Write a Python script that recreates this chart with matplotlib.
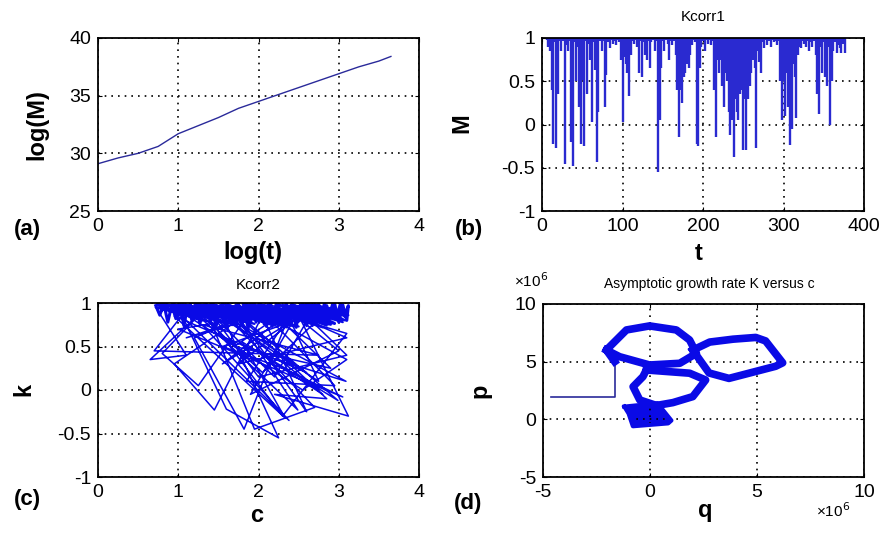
import matplotlib
matplotlib.use("Agg")
import matplotlib.pyplot as plt

plt.rcParams['font.family'] = ['Liberation Sans', 'DejaVu Sans']
plt.rcParams['axes.unicode_minus'] = False

# (a) log(M) vs log(t)
log_t = [0.0, 0.25, 0.5, 0.75, 1.0, 1.25, 1.5, 1.75, 2.0, 2.25, 2.5, 2.75, 3.0, 3.25, 3.5, 3.65]
log_m = [29.1, 29.6, 30.0, 30.6, 31.7, 32.4, 33.1, 33.9, 34.5, 35.1, 35.7, 36.3, 36.9, 37.5, 38.0, 38.4]

# (b) Kcorr1, M at t = 6, 8, ..., 376
t_b = list(range(6, 378, 2))
m_b = [0.98, 0.90, 0.85, 0.40, -0.22, 0.95, -0.27, 0.35, 0.97, 0.85,
       0.96, -0.46, 0.92, 0.85, 0.97, -0.20, -0.48, 0.95, 0.50, 0.90,
       0.20, -0.22, 0.52, -0.25, 0.96, 0.35, 0.93, 0.75, 0.03, 0.95,
       0.63, -0.43, 0.15, 0.97, 0.85, 0.96, 0.20, 0.57, 0.95, 0.88,
       0.98, 0.93, 0.97, 0.92, 0.98, 0.95, 0.75, 0.03, 0.78, 0.70,
       0.60, 0.33, 0.80, 0.97, 0.93, 0.98, 0.90, 0.60, 0.97, 0.55,
       0.95, 0.80, 0.75, 0.97, 0.65, 0.95, 0.98, 0.85, 0.97, -0.55,
       0.05, 0.65, 0.97, 0.85, 0.98, 0.93, 0.75, 0.97, 0.92, 0.97,
       0.80, 0.40, -0.15, 0.40, 0.25, 0.55, 0.60, 0.70, 0.65, 0.80,
       0.92, 0.98, 0.95, -0.22, -0.25, 0.65, 0.90, 0.97, 0.85, 0.98,
       0.93, 0.98, 0.92, 0.97, 0.40, -0.15, 0.75, 0.60, 0.75, 0.45,
       0.20, 0.60, 0.50, 0.15, -0.12, 0.05, -0.38, 0.30, 0.15, 0.05,
       0.35, 0.40, -0.30, 0.30, -0.30, 0.30, 0.45, 0.60, 0.75, 0.65,
       -0.27, 0.85, 0.72, 0.60, 0.95, 0.88, 0.98, 0.92, 0.97, 0.90,
       0.98, 0.95, 0.97, 0.92, 0.97, 0.50, 0.05, 0.50, 0.10, 0.60,
       0.20, -0.24, -0.05, 0.70, 0.55, 0.08, 0.80, 0.90, 0.88, 0.97,
       0.93, 0.90, 0.97, 0.85, 0.95, 0.90, 0.97, 0.80, 0.35, 0.12,
       0.90, 0.60, 0.95, 0.55, 0.45, 0.90, 0.00, 0.50, 0.85, 0.95,
       0.83, 0.92, 0.88, 0.83, 0.93, 0.83]

# (c) Kcorr2, k vs c: long jumps ...
c_c = [0.72, 1.10, 0.65, 1.35, 0.80, 1.25, 1.90, 0.95, 1.45, 2.10,
       1.20, 1.82, 2.40, 1.05, 1.60, 2.25, 1.50, 2.70, 1.95, 1.40,
       2.30, 3.10, 2.00, 2.60, 1.70, 2.85, 2.20, 3.12, 2.45, 1.85,
       2.95, 2.10, 3.10, 2.55, 0.90, 2.38, 1.30, 2.75, 0.70, 1.15,
       2.05, 2.90, 1.55, 2.30, 3.05, 1.00, 2.65, 1.75, 3.10, 2.15,
       1.20, 2.49, 1.65, 2.99, 1.80, 2.33, 0.95, 2.60, 1.45, 2.80,
       2.05, 3.09, 1.30, 2.20, 2.70, 1.55, 2.40, 3.00, 1.90, 2.55,
       1.10, 2.15, 2.90, 1.70, 2.45, 3.10, 2.00, 1.35, 2.75, 2.30]
k_c = [0.95, 0.40, 0.35, 0.95, 0.42, 0.05, 0.90, 0.30, -0.23, 0.95,
       0.60, -0.45, 0.90, 0.85, -0.22, -0.55, 0.95, -0.20, -0.45, 0.80,
       -0.30, 0.65, 0.95, -0.25, 0.90, -0.10, -0.05, -0.30, 0.95, 0.10,
       0.05, 0.85, 0.35, 0.00, 0.98, -0.35, 0.75, 0.40, 0.45, 0.98,
       0.20, 0.95, 0.50, 0.25, -0.08, 0.70, 0.95, 0.30, 0.60, 0.98,
       0.90, -0.23, 0.95, -0.12, 0.55, -0.32, 0.85, 0.20, 0.95, -0.05,
       0.40, 0.10, 0.98, 0.15, 0.95, 0.30, 0.90, 0.45, -0.05, 0.98,
       0.60, 0.92, 0.25, 0.50, 0.98, 0.40, 0.15, 0.95, 0.10, 0.99]
# ... and the dense band just below k = 1
c_band = [0.72, 0.77, 0.82, 0.87, 0.92, 0.97, 1.02, 1.07, 1.12, 1.17,
          1.22, 1.27, 1.32, 1.37, 1.42, 1.47, 1.52, 1.57, 1.62, 1.67,
          1.72, 1.77, 1.82, 1.87, 1.92, 1.97, 2.02, 2.07, 2.12, 2.17,
          2.22, 2.27, 2.32, 2.37, 2.42, 2.47, 2.52, 2.57, 2.62, 2.67,
          2.72, 2.77, 2.82, 2.87, 2.92, 2.97, 3.02, 3.07, 3.12,
          3.10, 3.05, 3.00, 2.95, 2.90, 2.85, 2.80, 2.75, 2.70, 2.65,
          2.60, 2.55, 2.50, 2.45, 2.40, 2.35, 2.30, 2.25, 2.20, 2.15,
          2.10, 2.05, 2.00, 1.95, 1.90, 1.85, 1.80, 1.75, 1.70, 1.65,
          1.60, 1.55, 1.50, 1.45, 1.40, 1.35, 1.30, 1.25, 1.20, 1.15,
          1.10, 1.05, 1.00, 0.95, 0.90, 0.85, 0.80, 0.75]
k_band = [0.97, 0.86, 0.99, 0.78, 0.98, 0.82, 0.99, 0.74, 0.97, 0.80,
          0.99, 0.76, 0.98, 0.84, 0.99, 0.72, 0.97, 0.79, 0.99, 0.75,
          0.98, 0.82, 0.99, 0.70, 0.97, 0.78, 0.99, 0.76, 0.98, 0.73,
          0.99, 0.80, 0.97, 0.75, 0.99, 0.72, 0.98, 0.78, 0.99, 0.74,
          0.97, 0.80, 0.99, 0.76, 0.98, 0.82, 0.99, 0.85, 0.97,
          0.80, 0.98, 0.78, 0.99, 0.84, 0.97, 0.77, 0.99, 0.81, 0.98,
          0.74, 0.99, 0.79, 0.97, 0.83, 0.99, 0.76, 0.98, 0.80, 0.99,
          0.73, 0.97, 0.82, 0.99, 0.77, 0.98, 0.85, 0.99, 0.79, 0.97,
          0.81, 0.99, 0.84, 0.98, 0.78, 0.99, 0.86, 0.97, 0.83, 0.99,
          0.88, 0.98, 0.85, 0.99, 0.90, 0.97, 0.92, 0.99]
c_band2 = [0.75, 1.30, 0.90, 1.60, 1.05, 1.85, 1.35, 2.20, 1.55, 2.45,
           1.95, 2.80, 2.25, 3.10, 2.60, 3.05, 2.35, 2.90, 2.00, 2.70,
           1.75, 2.50, 1.40, 2.15, 1.10, 1.90, 0.80, 1.50, 1.00, 1.70,
           1.20, 2.05, 1.45, 2.30, 1.80, 2.65, 2.10, 2.95, 2.40, 3.12,
           2.75, 3.00, 2.55, 2.85, 2.20, 2.60, 1.85, 2.35, 1.60, 2.10,
           1.25, 1.95, 0.95, 1.65, 0.72, 1.40, 0.85, 1.15, 1.75, 2.25,
           2.70, 3.08, 2.50, 2.95, 1.90, 2.45, 1.35, 2.00, 1.05, 1.55,
           0.78]
k_band2 = [0.98, 0.80, 0.96, 0.76, 0.99, 0.82, 0.97, 0.74, 0.99, 0.79,
           0.96, 0.72, 0.98, 0.85, 0.99, 0.78, 0.97, 0.75, 0.99, 0.81,
           0.96, 0.73, 0.99, 0.80, 0.97, 0.77, 0.99, 0.83, 0.96, 0.75,
           0.99, 0.79, 0.97, 0.74, 0.99, 0.82, 0.96, 0.76, 0.98, 0.86,
           0.97, 0.80, 0.99, 0.74, 0.96, 0.79, 0.99, 0.72, 0.97, 0.81,
           0.99, 0.76, 0.98, 0.83, 0.95, 0.78, 0.99, 0.84, 0.97, 0.75,
           0.99, 0.80, 0.96, 0.77, 0.99, 0.73, 0.98, 0.82, 0.97, 0.85,
           0.99]

# (d) p vs q, in units of 1e6
start_q = [-4.61, -1.65, -1.65]
start_p = [1.97, 1.97, 5.0]
loop1_q = [-1.65, -2.04, -1.10, -0.02, 1.23, 1.85, 2.17, 1.39, -0.02, -1.42, -2.04]
loop1_p = [5.0, 6.01, 7.75, 8.10, 7.75, 6.88, 5.72, 4.86, 4.71, 5.43, 6.01]
loop2_q = [2.00, 2.79, 3.88, 4.94, 5.40, 6.20, 5.87, 3.69, 2.76, 2.00]
loop2_p = [6.00, 6.70, 6.95, 7.10, 6.80, 4.90, 4.60, 3.55, 4.02, 6.00]
loop3_q = [-0.17, 1.85, 2.60, 2.00, 1.07, 0.30, -0.48, -0.79, -0.33, -0.17]
loop3_p = [4.28, 4.00, 3.41, 1.97, 1.45, 1.20, 1.68, 2.83, 3.70, 4.28]
loop4_q = [-1.20, 0.35, 1.00, 0.85, -0.80, -1.00, -1.20]
loop4_p = [1.10, 1.40, -0.10, -0.35, -0.60, 0.50, 1.10]

fig = plt.figure(figsize=(8.84, 5.33), dpi=100)
W, H = 884.0, 533.0
blue = '#0a0ae6'


def box(l, t, r, b):
    return [l / W, 1 - b / H, (r - l) / W, (b - t) / H]


def style(ax, xlim, ylim, xt, yt):
    ax.set_xlim(xlim)
    ax.set_ylim(ylim)
    ax.set_xticks(xt)
    ax.set_yticks(yt)
    ax.grid(True, color='black', linestyle=(0, (1, 3)), linewidth=1.2)
    ax.tick_params(direction='in', length=3, labelsize=14, pad=5,
                   top=True, right=True)
    for s in ax.spines.values():
        s.set_linewidth(1.3)


def ftext(x, y, s, **kw):
    fig.text(x / W, 1 - y / H, s, ha='center', va='center', **kw)


ax_a = fig.add_axes(box(98, 38, 419, 211))
ax_a.plot(log_t, log_m, color='#2a2a9a', linewidth=1.0)
style(ax_a, (0, 4), (25, 40), [0, 1, 2, 3, 4], [25, 30, 35, 40])

ax_b = fig.add_axes(box(542, 38, 864, 211))
ax_b.vlines(t_b, m_b, 1, color='#2a2ad0', linewidth=1.7)
style(ax_b, (0, 400), (-1, 1), [0, 100, 200, 300, 400], [-1, -0.5, 0, 0.5, 1])
ax_b.set_yticklabels(['-1', '-0.5', '0', '0.5', '1'])

ax_c = fig.add_axes(box(98, 303, 419, 477))
ax_c.plot(c_c, k_c, color=blue, linewidth=1.1)
ax_c.plot(c_band, k_band, color=blue, linewidth=2.2)
ax_c.plot(c_band2, k_band2, color=blue, linewidth=1.6)
style(ax_c, (0, 4), (-1, 1), [0, 1, 2, 3, 4], [-1, -0.5, 0, 0.5, 1])
ax_c.set_yticklabels(['-1', '-0.5', '0', '0.5', '1'])

ax_d = fig.add_axes(box(543, 304, 864, 477))
ax_d.plot(start_q, start_p, color='#2a2a9a', linewidth=1.2)
for lq, lp in [(loop1_q, loop1_p), (loop2_q, loop2_p), (loop3_q, loop3_p)]:
    ax_d.plot(lq, lp, color=blue, linewidth=5.5, solid_joinstyle='round')
ax_d.fill(loop4_q, loop4_p, color=blue)
ax_d.plot(loop4_q, loop4_p, color=blue, linewidth=3, solid_joinstyle='round')
style(ax_d, (-5, 10), (-5, 10), [-5, 0, 5, 10], [-5, 0, 5, 10])

# labels
bold = dict(fontsize=17, fontweight='bold')
ftext(37, 125, 'log(M)', rotation=90, **bold)
ftext(253, 252, 'log(t)', **bold)
ftext(462, 123, 'M', rotation=90, **bold)
ftext(699, 253, 't', **bold)
ftext(24, 389, 'k', rotation=90, **bold)
ftext(257, 515, 'c', **bold)
ftext(480, 391, 'p', rotation=90, **bold)
ftext(705, 511, 'q', **bold)

lab = dict(fontsize=16, fontweight='bold')
ftext(27, 230, '(a)', **lab)
ftext(469, 230, '(b)', **lab)
ftext(27, 499, '(c)', **lab)
ftext(468, 503, '(d)', **lab)

ftext(703, 17, 'Kcorr1', fontsize=11)
ftext(258, 285, 'Kcorr2', fontsize=11)
ftext(709, 284, 'Asymptotic growth rate K versus c', fontsize=10)
ftext(531, 281, '×10$^6$', fontsize=11)
ftext(833, 511, '×10$^6$', fontsize=11)

fig.savefig('out.png', dpi=100)
